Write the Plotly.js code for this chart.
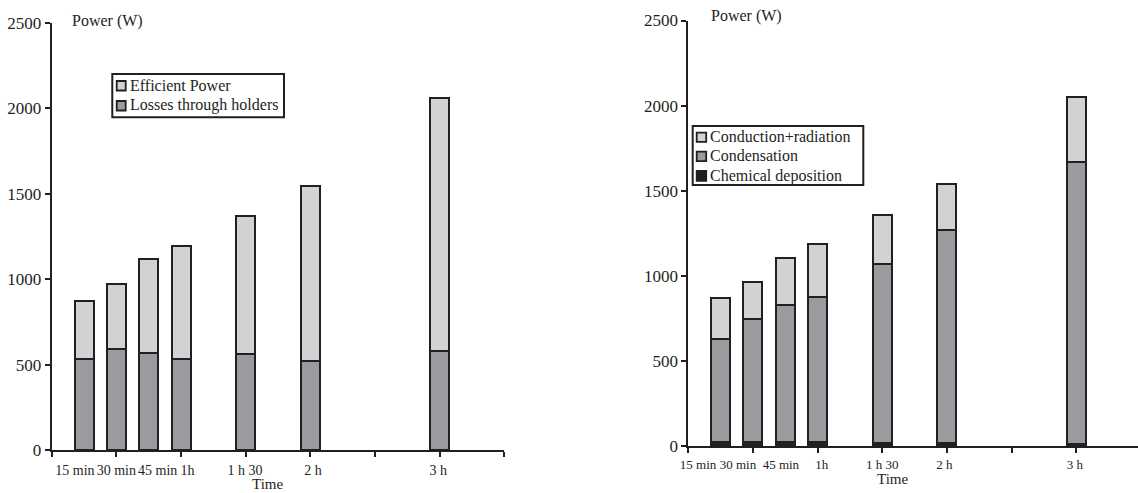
<!DOCTYPE html>
<html>
<head>
<meta charset="utf-8">
<script src="https://cdn.plot.ly/plotly-3.0.1.min.js"></script>
<style>html,body{margin:0;padding:0;background:#fff;}#chart{width:1138px;height:493px;}</style>
</head>
<body>
<div id="chart"></div>
<script>
// ---- data ----
const timesH = [0.25, 0.5, 0.75, 1, 1.5, 2, 3];
const timeLabels = ['15 min', '30 min', '45 min', '1h', '1 h 30', '2 h', '3 h'];
// left chart (W)
const lossesHolders = [532, 591, 567, 532, 561, 524, 577];
const efficientPower = [342, 383, 550, 663, 808, 1021, 1481];
// right chart (W)
const chemicalDeposition = [25, 25, 25, 25, 15, 15, 10];
const condensation = [602, 719, 805, 852, 1054, 1252, 1660];
const conductionRadiation = [241, 220, 273, 308, 288, 270, 380];
const leftSeriesNames = ['Efficient Power', 'Losses through holders'];
const rightSeriesNames = ['Conduction+radiation', 'Condensation', 'Chemical deposition'];

// ---- layout constants ----
const W = 1138, H = 493;
const INK = '#231f20';
const LIGHT = '#d1d2d4', MID = '#9a9b9f', DARK = '#231f20';
const FONT = 'Liberation Serif, Times New Roman, serif';
const leftLabelPos = [0.18, 0.5, 0.82, 1.05, 1.495, 2.02, 2.99];
const rightLabelPos = [0.075, 0.384, 0.716, 1.033, 1.5, 1.98, 2.99];
const barW = 0.147;
const px = v => v / W;
const py = v => 1 - v / H;

function bar(name, y, color, xa, ya) {
  return {
    type: 'bar', name: name, x: timesH, y: y, width: barW,
    xaxis: xa, yaxis: ya, showlegend: false,
    marker: {color: color, line: {color: INK, width: 2}},
    hoverinfo: 'name+y'
  };
}

const traces = [
  bar(leftSeriesNames[1], lossesHolders, MID, 'x', 'y'),
  bar(leftSeriesNames[0], efficientPower, LIGHT, 'x', 'y'),
  bar(rightSeriesNames[2], chemicalDeposition, DARK, 'x2', 'y2'),
  bar(rightSeriesNames[1], condensation, MID, 'x2', 'y2'),
  bar(rightSeriesNames[0], conductionRadiation, LIGHT, 'x2', 'y2'),
  {type: 'scatter', x: [], y: [], xaxis: 'x3', yaxis: 'y', showlegend: false, hoverinfo: 'skip'},
  {type: 'scatter', x: [], y: [], xaxis: 'x4', yaxis: 'y2', showlegend: false, hoverinfo: 'skip'}
];

const tickAxis = (domain, range, anchor) => ({
  domain: domain, range: range, anchor: anchor,
  tickmode: 'linear', tick0: 0, dtick: 0.5,
  ticks: 'outside', ticklen: 5, tickwidth: 2, tickcolor: INK,
  showticklabels: false, showline: true, linewidth: 2, linecolor: INK,
  showgrid: false, zeroline: false, fixedrange: true
});
const labelAxis = (over, range, anchor, pos, standoff, size) => ({
  overlaying: over, anchor: anchor, range: range, side: 'bottom',
  tickmode: 'array', tickvals: pos, ticktext: timeLabels, tickangle: 0,
  ticks: '', showline: false, showgrid: false, zeroline: false,
  tickfont: {family: FONT, size: size, color: INK}, ticklabelstandoff: standoff,
  fixedrange: true
});
const yAxis = (domain, anchor) => ({
  domain: domain, anchor: anchor, range: [0, 2500],
  tickmode: 'linear', tick0: 0, dtick: 500,
  ticks: 'outside', ticklen: 5, tickwidth: 2, tickcolor: INK,
  showline: true, linewidth: 2, linecolor: INK,
  showgrid: false, zeroline: false, fixedrange: true,
  tickfont: {family: FONT, size: 17, color: INK}
});

// legend drawn as box + swatches + texts
const shapes = [];
const annotations = [];
function legendBox(x0, y0, x1, y1) {
  shapes.push({type: 'rect', xref: 'paper', yref: 'paper', x0: px(x0), x1: px(x1), y0: py(y1), y1: py(y0),
    line: {color: INK, width: 2}, fillcolor: '#fff', layer: 'above'});
}
function legendItem(name, color, sx0, sy0, sx1, sy1, tx, ty) {
  shapes.push({type: 'rect', xref: 'paper', yref: 'paper', x0: px(sx0), x1: px(sx1), y0: py(sy1), y1: py(sy0),
    line: {color: INK, width: 1.8}, fillcolor: color, layer: 'above'});
  annotations.push({text: name, xref: 'paper', yref: 'paper', x: px(tx), y: py(ty),
    xanchor: 'left', yanchor: 'middle', showarrow: false, borderpad: 0,
    font: {family: FONT, size: 16, color: INK}});
}
legendBox(112.3, 74, 284, 117.3);
legendItem(leftSeriesNames[0], LIGHT, 116.7, 81, 125.7, 90.5, 128.5, 85.5);
legendItem(leftSeriesNames[1], MID, 116.7, 101, 125.7, 110.5, 128.5, 105.3);
legendBox(692.7, 126, 863.3, 185);
legendItem(rightSeriesNames[0], LIGHT, 696.7, 132.7, 706.2, 141.9, 708.8, 137);
legendItem(rightSeriesNames[1], MID, 696.7, 151.7, 706.2, 161.1, 708.8, 156);
legendItem(rightSeriesNames[2], DARK, 696.7, 171, 706.2, 180.8, 708.8, 175.7);

const titleFont = {family: FONT, size: 16, color: INK};
annotations.push(
  {text: 'Power (W)', xref: 'paper', yref: 'paper', x: px(107.5), y: py(20.7),
   xanchor: 'center', yanchor: 'middle', showarrow: false, font: titleFont},
  {text: 'Power (W)', xref: 'paper', yref: 'paper', x: px(746.7), y: py(16),
   xanchor: 'center', yanchor: 'middle', showarrow: false, font: titleFont},
  {text: 'Time', xref: 'paper', yref: 'paper', x: px(267.5), y: 0, borderpad: 0,
   xanchor: 'center', yanchor: 'bottom', showarrow: false, font: {family: FONT, size: 15, color: INK}},
  {text: 'Time', xref: 'paper', yref: 'paper', x: px(892.5), y: py(479), borderpad: 0,
   xanchor: 'center', yanchor: 'middle', showarrow: false, font: {family: FONT, size: 15, color: INK}}
);

const lx0 = 51.7, rx0 = 688.3, pxPerH = 129.3;
const layout = {
  width: W, height: H,
  margin: {l: 0, r: 0, t: 0, b: 0, pad: 0},
  paper_bgcolor: '#fff', plot_bgcolor: '#fff',
  barmode: 'stack',
  showlegend: false,
  font: {family: FONT, color: INK, size: 16},
  xaxis: tickAxis([px(lx0), px(lx0 + 7 * pxPerH / 2)], [0, 3.5], 'y'),
  yaxis: yAxis([43 / H, 470 / H], 'x'),
  xaxis2: tickAxis([px(rx0), 1], [0, (W - rx0) / pxPerH], 'y2'),
  yaxis2: yAxis([47 / H, 472.5 / H], 'x2'),
  xaxis3: labelAxis('x', [0, 3.5], 'y', leftLabelPos, 10, 14),
  xaxis4: labelAxis('x2', [0, (W - rx0) / pxPerH], 'y2', rightLabelPos, 9, 13),
  shapes: shapes,
  annotations: annotations
};

Plotly.newPlot('chart', traces, layout, {displayModeBar: false, staticPlot: true});
</script>
</body>
</html>
